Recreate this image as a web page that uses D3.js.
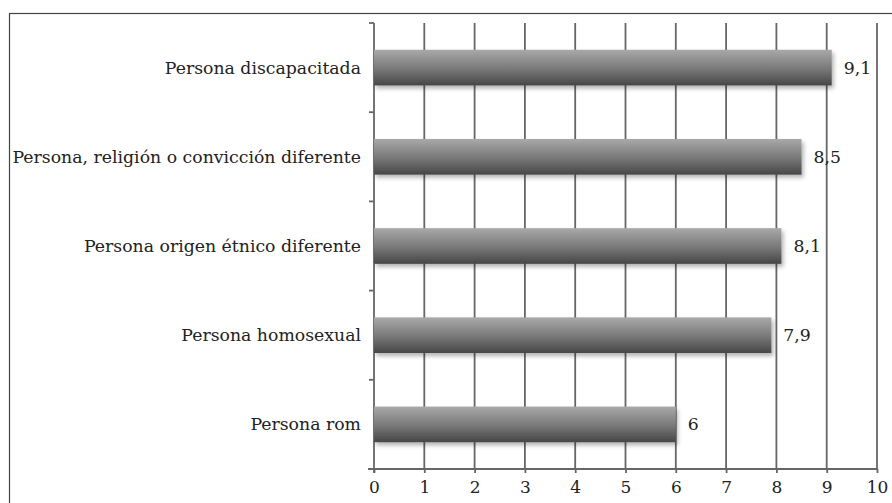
<!DOCTYPE html>
<html>
<head>
<meta charset="utf-8">
<script src="https://cdn.jsdelivr.net/npm/d3@7"></script>
<style>
  body { margin: 0; background: #fff; }
</style>
</head>
<body>
<script>
// width and height of svg
var w = 892;
var h = 503;
var serif = "'DejaVu Serif'";

// categories, top to bottom, and their values
var categories = [
  "Persona discapacitada",
  "Persona, religión o convicción diferente",
  "Persona origen étnico diferente",
  "Persona homosexual",
  "Persona rom"
];
var values = [9.1, 8.5, 8.1, 7.9, 6];
var xTicks = [0, 1, 2, 3, 4, 5, 6, 7, 8, 9, 10];

var svg = d3.select("body")
            .append("svg")
            .attr("width", w)
            .attr("height", h);

// outer frame (right and bottom edges fall outside the picture)
svg.append("rect")
   .attr("x", 9.5)
   .attr("y", 13.5)
   .attr("width", w + 20)
   .attr("height", h + 20)
   .attr("fill", "none")
   .attr("stroke", "#444")
   .attr("stroke-width", 1.2);

// scales
var x = d3.scaleLinear().domain([0, 10]).range([374, 877]);
var y = d3.scaleBand().domain(categories).range([23, 469]).padding(0);
var barH = y.bandwidth() * 0.4;

// gradient and shadow for the bars
var defs = svg.append("defs");
var grad = defs.append("linearGradient")
               .attr("id", "barGrad")
               .attr("x1", 0).attr("y1", 0)
               .attr("x2", 0).attr("y2", 1);
grad.append("stop").attr("offset", "0%").attr("stop-color", "#a9a9a9");
grad.append("stop").attr("offset", "55%").attr("stop-color", "#777");
grad.append("stop").attr("offset", "100%").attr("stop-color", "#464646");

var shadow = defs.append("filter")
                 .attr("id", "shadow")
                 .attr("x", "-5%").attr("y", "-30%")
                 .attr("width", "110%").attr("height", "170%");
shadow.append("feDropShadow")
      .attr("dx", 2).attr("dy", 3)
      .attr("stdDeviation", 2)
      .attr("flood-color", "#000")
      .attr("flood-opacity", 0.3);

// vertical gridlines
svg.append("g")
   .selectAll("line")
   .data(xTicks.slice(1))
   .enter()
   .append("line")
   .attr("x1", function(d) { return x(d); })
   .attr("x2", function(d) { return x(d); })
   .attr("y1", 23)
   .attr("y2", 469)
   .attr("stroke", "#666")
   .attr("stroke-width", 1.8);

// bottom axis
var xAxis = d3.axisBottom(x)
              .tickValues(xTicks)
              .tickSize(4)
              .tickSizeOuter(0)
              .tickFormat(d3.format("d"));
var gx = svg.append("g")
            .attr("transform", "translate(0,469)")
            .call(xAxis)
            .attr("font-family", serif)
            .attr("font-size", 17);
gx.select(".domain").attr("stroke", "#666").attr("stroke-width", 1.8)
  .attr("d", "M" + (x(0) - 6) + ",0H" + x(10));
gx.selectAll(".tick line").attr("stroke", "#666").attr("stroke-width", 1.8);
gx.selectAll(".tick text")
  .attr("y", 12)
  .attr("fill", "#222");

// left axis with ticks at band edges
var edges = categories.map(function(c) { return y(c); });
var gy = svg.append("g");
gy.append("line")
  .attr("x1", x(0)).attr("x2", x(0))
  .attr("y1", 23).attr("y2", 473)
  .attr("stroke", "#666")
  .attr("stroke-width", 1.8);
gy.selectAll("line.tk")
  .data(edges)
  .enter()
  .append("line")
  .attr("class", "tk")
  .attr("x1", x(0) - 5).attr("x2", x(0))
  .attr("y1", function(d) { return d; })
  .attr("y2", function(d) { return d; })
  .attr("stroke", "#666")
  .attr("stroke-width", 1.8);

// category labels
svg.append("g")
   .selectAll("text")
   .data(categories)
   .enter()
   .append("text")
   .attr("x", 361)
   .attr("y", function(d) { return y(d) + y.bandwidth() / 2; })
   .attr("dy", "0.35em")
   .attr("text-anchor", "end")
   .attr("font-family", serif)
   .attr("font-size", 17.3)
   .attr("fill", "#222")
   .text(function(d) { return d; });

// bars
svg.append("g")
   .selectAll("rect")
   .data(values)
   .enter()
   .append("rect")
   .attr("x", x(0))
   .attr("y", function(d, i) { return y(categories[i]) + (y.bandwidth() - barH) / 2; })
   .attr("width", function(d) { return x(d) - x(0); })
   .attr("height", barH)
   .attr("fill", "url(#barGrad)")
   .attr("filter", "url(#shadow)");

// value labels with decimal comma
var es = d3.formatLocale({ decimal: ",", thousands: ".", grouping: [3], currency: ["", "€"] });
var fmt = es.format(".1~f");
svg.append("g")
   .selectAll("text")
   .data(values)
   .enter()
   .append("text")
   .attr("x", function(d) { return x(d) + 12; })
   .attr("y", function(d, i) { return y(categories[i]) + y.bandwidth() / 2; })
   .attr("dy", "0.35em")
   .attr("font-family", serif)
   .attr("font-size", 17.3)
   .attr("fill", "#222")
   .text(function(d) { return fmt(d); });
</script>
</body>
</html>
